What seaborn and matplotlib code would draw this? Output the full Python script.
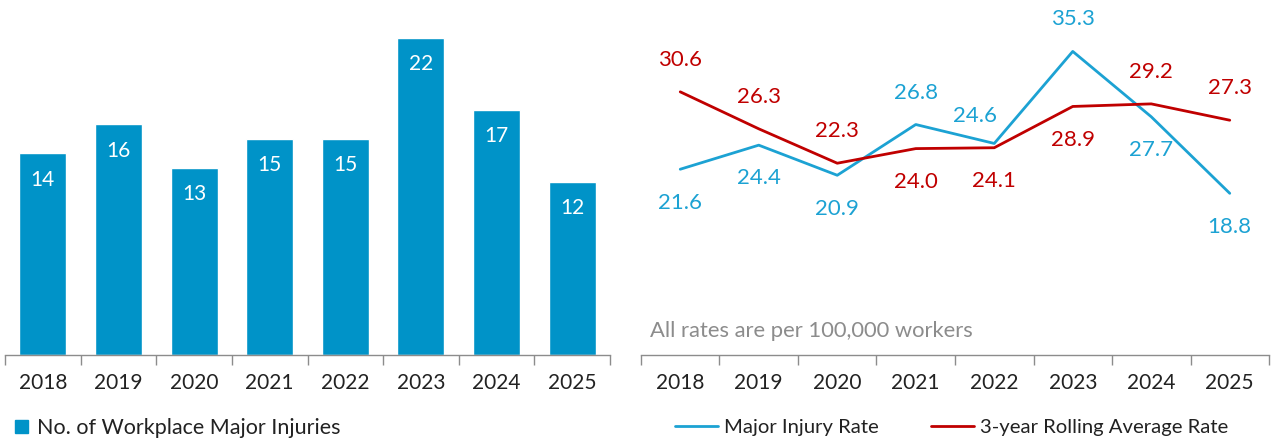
import numpy as np
import pandas as pd
import matplotlib
matplotlib.use("Agg")
import matplotlib.pyplot as plt
import seaborn as sns
from matplotlib.lines import Line2D
from matplotlib.patches import Patch

# data
anos = ["2018", "2019", "2020", "2021", "2022", "2023", "2024", "2025"]
n_lesoes = [14, 16, 13, 15, 15, 22, 17, 12]
taxa_lesao = [21.6, 24.4, 20.9, 26.8, 24.6, 35.3, 27.7, 18.8]
media_movel = [30.6, 26.3, 22.3, 24.0, 24.1, 28.9, 29.2, 27.3]

AZUL_BARRA = "#0093C8"
AZUL_LINHA = "#1CA2D3"
VERMELHO = "#C00000"
CINZA_EIXO = "#8C8C8C"

sns.set_theme(style="white")
plt.rcParams["font.family"] = ["Lato", "DejaVu Sans"]

W, H = 1275, 441
fig = plt.figure(figsize=(W / 100, H / 100), dpi=100)


def px_axes(x0, x1, ytop, ybot):
    return fig.add_axes([x0 / W, (H - ybot) / H, (x1 - x0) / W, (ybot - ytop) / H])


def estilo_excel(ax):
    for s in ["top", "right", "left"]:
        ax.spines[s].set_visible(False)
    ax.spines["bottom"].set_color(CINZA_EIXO)
    ax.spines["bottom"].set_linewidth(1.0)
    ax.set_yticks([])
    ax.set_xlim(-0.5, len(anos) - 0.5)
    ax.set_xticks(range(len(anos)))
    ax.set_xticklabels(anos, fontsize=15, color="#222222")
    ax.tick_params(axis="x", which="major", bottom=True, length=0, pad=13)
    ax.set_xticks(np.arange(-0.5, len(anos)), minor=True)
    ax.tick_params(axis="x", which="minor", bottom=True, length=7, width=1,
                   color=CINZA_EIXO, direction="out")
    ax.set_xlabel("")
    ax.set_ylabel("")


# ---------------------------------------------------------
# Left: number of major injuries
# ---------------------------------------------------------
ax1 = px_axes(5, 610, 9, 355)
df_barras = pd.DataFrame({"ano": anos, "n": n_lesoes})
sns.barplot(data=df_barras, x="ano", y="n", color=AZUL_BARRA, width=0.62,
            saturation=1, ax=ax1)
ax1.set_ylim(0, 24)
estilo_excel(ax1)
for i, v in enumerate(n_lesoes):
    ax1.annotate(str(v), xy=(i, v), xytext=(0, -19), textcoords="offset points",
                 ha="center", va="center", color="white", fontsize=15)

fig.legend(handles=[Patch(color=AZUL_BARRA, label="No. of Workplace Major Injuries")],
           loc="center left", bbox_to_anchor=(-4 / W, 1 - 428 / H), frameon=False,
           fontsize=15.5, handlelength=0.6, handleheight=0.6, handletextpad=0.4,
           labelcolor="#222222")

# ---------------------------------------------------------
# Right: rates
# ---------------------------------------------------------
ax2 = px_axes(641, 1269, 11, 355)
df_linhas = pd.DataFrame({"ano": anos, "taxa": taxa_lesao, "media": media_movel})
sns.lineplot(data=df_linhas, x="ano", y="taxa", color=AZUL_LINHA, linewidth=2, ax=ax2)
sns.lineplot(data=df_linhas, x="ano", y="media", color=VERMELHO, linewidth=2, ax=ax2)
ax2.set_ylim(0, 40)
estilo_excel(ax2)

# offsets of labels (points), Excel style placement
off_azul = [(0, -24), (0, -24), (0, -24), (0, 23), (-14, 20), (0, 23), (0, -24), (0, -24)]
off_verm = [(0, 23), (0, 23), (0, 23), (0, -24), (0, -24), (0, -24), (0, 23), (0, 23)]
for i in range(len(anos)):
    ax2.annotate(f"{taxa_lesao[i]:.1f}", xy=(i, taxa_lesao[i]), xytext=off_azul[i],
                 textcoords="offset points", ha="center", va="center",
                 color=AZUL_LINHA, fontsize=16)
    ax2.annotate(f"{media_movel[i]:.1f}", xy=(i, media_movel[i]), xytext=off_verm[i],
                 textcoords="offset points", ha="center", va="center",
                 color=VERMELHO, fontsize=16)

fig.text(650 / W, 1 - 331 / H, "All rates are per 100,000 workers", fontsize=15.8,
         color="#8C8C8C", ha="left", va="center")

fig.legend(handles=[Line2D([], [], color=AZUL_LINHA, lw=2, label="Major Injury Rate"),
                    Line2D([], [], color=VERMELHO, lw=2, label="3-year Rolling Average Rate")],
           loc="center left", bbox_to_anchor=(657 / W, 1 - 427 / H), frameon=False,
           fontsize=14.6, ncol=2, handlelength=2.1, handletextpad=0.3, columnspacing=2.6,
           labelcolor="#222222")

fig.savefig("out.png", dpi=100)
